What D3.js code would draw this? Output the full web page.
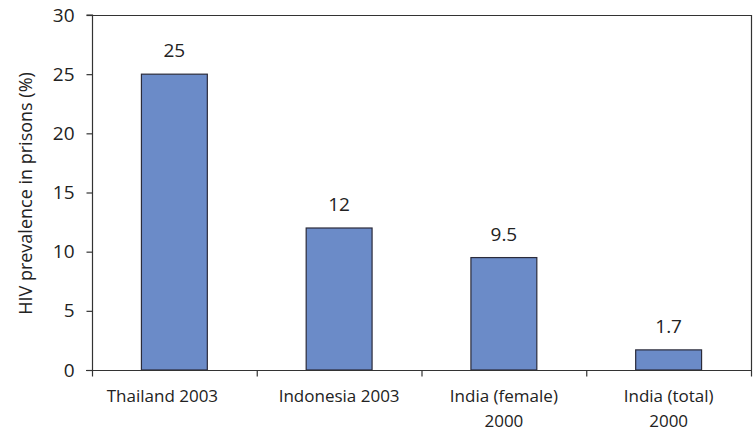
<!DOCTYPE html>
<html><head><meta charset="utf-8">
<script src="https://cdn.jsdelivr.net/npm/d3@7"></script>
<style>body{margin:0;background:#fff;} text{font-family:"Open Sans",sans-serif;fill:#222;}</style>
</head><body><svg id="c" width="755" height="432"></svg>
<script>
const categories = [["Thailand 2003"], ["Indonesia 2003"], ["India (female)", "2000"], ["India (total)", "2000"]];
const values = [25, 12, 9.5, 1.7];
const valueLabels = ["25", "12", "9.5", "1.7"];
const yTicks = [0, 5, 10, 15, 20, 25, 30];
const yTitle = "HIV prevalence in prisons (%)";

const svg = d3.select("#c");
const L = 92, R = 751, T = 15, B = 370;
const keys = categories.map((d, i) => i);
const x = d3.scaleBand().domain(keys).range([L, R]).paddingInner(0).paddingOuter(0);
const y = d3.scaleLinear().domain([0, 30]).range([B, T]);
const bw = x.bandwidth() * 0.4;

// frame top and right
svg.append("line").attr("x1", L).attr("x2", R).attr("y1", T + 0.5).attr("y2", T + 0.5).attr("stroke", "#333").attr("stroke-width", 1.2);
svg.append("line").attr("x1", R + 0.5).attr("x2", R + 0.5).attr("y1", T).attr("y2", B).attr("stroke", "#333").attr("stroke-width", 1.2);

// bars
svg.selectAll("rect.bar").data(values).enter().append("rect")
  .attr("x", (d, i) => x(i) + x.bandwidth() / 2 - bw / 2)
  .attr("y", d => y(d))
  .attr("width", bw)
  .attr("height", d => B - y(d))
  .attr("fill", "#6b8bc8").attr("stroke", "#2b2b3a").attr("stroke-width", 1.2);

// value labels
svg.selectAll("text.val").data(values).enter().append("text")
  .attr("x", (d, i) => x(i) + x.bandwidth() / 2)
  .attr("y", d => y(d) - 17)
  .attr("text-anchor", "middle").attr("font-size", 19)
  .text((d, i) => valueLabels[i]);

// y axis
const ya = svg.append("g").attr("transform", `translate(${L + 0.5},0)`)
  .call(d3.axisLeft(y).tickValues(yTicks).tickSize(6).tickPadding(12));
ya.selectAll("path,line").attr("stroke", "#333").attr("stroke-width", 1.2);
ya.selectAll("text").attr("font-size", 19).attr("font-family", "Open Sans").attr("fill", "#222");
ya.select("path").attr("d", `M-6,${y(30)}H0V${B}`);

// x axis
const xa = svg.append("g").attr("transform", `translate(0,${B + 0.5})`);
xa.append("line").attr("x1", L - 6).attr("x2", R + 1).attr("y1", 0).attr("y2", 0).attr("stroke", "#333").attr("stroke-width", 1.2);
const bounds = keys.map(k => x(k)).concat([R]);
xa.selectAll("line.tk").data(bounds).enter().append("line")
  .attr("x1", d => d + 0.5).attr("x2", d => d + 0.5).attr("y1", 0).attr("y2", 6)
  .attr("stroke", "#333").attr("stroke-width", 1.2);
const xl = xa.selectAll("text.xl").data(categories).enter().append("text")
  .attr("text-anchor", "middle").attr("font-size", 17)
  .attr("transform", (d, i) => `translate(${x(i) + x.bandwidth() / 2 + (i === 0 ? -12 : 0)},31)`);
xl.selectAll("tspan").data(d => d).enter().append("tspan")
  .attr("x", 0).attr("dy", (d, j) => j === 0 ? 0 : 25).text(d => d);

// y title
svg.append("text").attr("transform", `translate(32,${(T + B) / 2 + 1}) rotate(-90)`)
  .attr("text-anchor", "middle").attr("font-size", 18).text(yTitle);
</script></body></html>
